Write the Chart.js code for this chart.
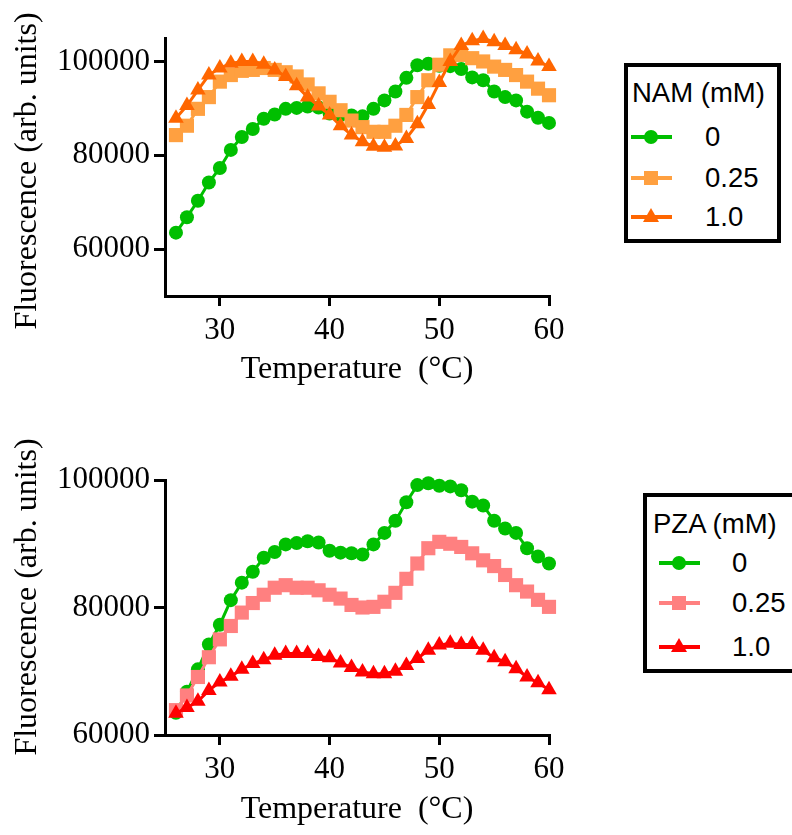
<!DOCTYPE html>
<html>
<head>
<meta charset="utf-8">
<script src="https://cdn.jsdelivr.net/npm/chart.js@4.4.0/dist/chart.umd.min.js"></script>
<style>
  body { margin:0; background:#fff; }
  #wrap { position:relative; width:792px; height:835px; overflow:hidden; }
  #topBox { position:absolute; left:0; top:0; width:600px; height:400px; }
  #botBox { position:absolute; left:0; top:420px; width:600px; height:415px; }
  .leg { position:absolute; border:4px solid #000; background:#fff; font-family:"Liberation Sans", Arial, sans-serif; font-size:27.5px; color:#000; box-sizing:border-box; }
  .leg .ttl { position:absolute; white-space:nowrap; line-height:28px; }
  .leg .row { position:absolute; height:30px; }
  .leg .ln { position:absolute; top:13px; width:41px; height:4px; }
  .leg .mk { position:absolute; }
  .leg .lbl { position:absolute; top:0; line-height:30px; white-space:nowrap; }
</style>
</head>
<body>
<div id="wrap">
  <div id="topBox"><canvas id="topChart"></canvas></div>
  <div id="botBox"><canvas id="botChart"></canvas></div>
  <div class="leg" id="legTop" style="left:624px; top:63px; width:157px; height:180px;"></div>
  <div class="leg" id="legBot" style="left:643px; top:493px; width:180px; height:180px;"></div>
</div>
<script>
// temperatures (°C)
const temps = [26,27,28,29,30,31,32,33,34,35,36,37,38,39,40,41,42,43,44,45,46,47,48,49,50,51,52,53,54,55,56,57,58,59,60]

// control (0 mM), same curve in both panels
const ctrl0 = [63500,66800,70300,74200,77300,81150,83900,85600,87800,88700,89900,90100,90400,90200,88900,88600,88500,88300,89900,91700,93600,96500,99200,99500,99100,99000,98400,96600,96000,93600,92400,91700,89300,88000,86900]
// NAM
const nam025 = [84300,86300,89900,92400,95700,97100,98000,98200,98600,98200,97700,96800,95100,93200,91400,89600,87400,86000,85000,85000,86300,88600,92400,96000,99300,101300,101400,100700,100000,98900,98200,97100,95700,94200,92800]
const nam10 = [87900,90600,93900,97100,98600,99600,100000,100000,99400,98200,96800,94800,92400,90500,88600,86300,84300,82900,81900,81700,82000,83600,86700,90800,95500,100000,103400,104400,104900,104200,103400,102500,101600,100100,98900]
// PZA
const pza025 = [63900,66200,69100,72200,75000,77100,79200,80700,82000,83100,83500,83100,83100,82700,82000,81400,80400,80000,80100,80900,82300,84500,86900,89300,90300,90000,89500,88500,87400,86500,85100,83500,82500,81200,80100]
const pza10 = [63400,64300,65300,67000,68300,69200,70300,71200,71800,72500,72800,72800,72800,72300,72100,71300,70600,69900,69600,69600,70000,70900,72000,73300,74100,74400,74200,74200,73300,72100,71500,70400,69100,68200,67100]

const xTicks = [30,40,50,60]
const topYTicks = [60000,80000,100000]
const botYTicks = [60000,80000,100000]

const green = "#00BF00"
const serif = "'Liberation Serif', 'Times New Roman', serif"

function pts(vals){
    return temps.map((t,i) => ({x:t, y:vals[i]}))
}

function ds(label, vals, color, style, r, order){
    return {
        label: label,
        data: pts(vals),
        borderColor: color,
        backgroundColor: color,
        borderWidth: 3,
        pointStyle: style,
        pointRadius: r,
        pointHoverRadius: r,
        pointBorderWidth: 0,
        tension: 0,
        clip: false,
        order: order
    }
}

// y title drawn by hand so it can sit a little off the plot centre, like the original
const yTitle = {
    id: "yTitle",
    afterDraw(chart, args, opts) {
        const c = chart.ctx
        c.save()
        c.translate(28, opts.cy)
        c.rotate(-Math.PI / 2)
        c.font = "32px " + serif
        c.fillStyle = "#000"
        c.textAlign = "center"
        c.textBaseline = "middle"
        c.fillText("Fluorescence (arb. units)", 0, 0)
        c.restore()
    }
}

function makeChart(id, sets, ymin, ymax, yticks, padTop, xHeight, titlePadBottom, titleCy){
    const ctx = document.getElementById(id).getContext("2d")
    return new Chart(ctx, {
        type: "line",
        data: { datasets: sets },
        plugins: [yTitle],
        options: {
            responsive: true,
            maintainAspectRatio: false,
            animation: false,
            events: [],
            layout: { padding: { top: padTop, right: 51, left: 0, bottom: 0 } },
            plugins: { legend: { display:false }, tooltip: { enabled:false }, yTitle: { cy: titleCy } },
            scales: {
                x: {
                    type: "linear",
                    min: 25, max: 60,
                    afterBuildTicks: s => { s.ticks = xTicks.map(v => ({value:v})) },
                    afterFit: s => { s.height = xHeight },
                    border: { display:true, color:"#000", width:3 },
                    grid: { drawOnChartArea:false, color:"#000", lineWidth:3, tickLength:10 },
                    ticks: { color:"#000", font:{ family:serif, size:31 }, padding:6, maxRotation:0 },
                    title: { display:true, text:"Temperature  (°C)", color:"#000",
                             font:{ family:serif, size:32, lineHeight:1.2 }, padding:{ top:0, bottom:titlePadBottom } }
                },
                y: {
                    min: ymin, max: ymax,
                    afterBuildTicks: s => { s.ticks = yticks.map(v => ({value:v})) },
                    afterFit: s => { s.width = 165 },
                    border: { display:true, color:"#000", width:3 },
                    grid: { drawOnChartArea:false, color:"#000", lineWidth:3, tickLength:11 },
                    ticks: { color:"#000", font:{ family:serif, size:31 }, padding:4,
                             callback: v => String(v) }
                }
            }
        }
    })
}

makeChart("topChart", [
    ds("0", ctrl0, green, "circle", 7, 3),
    ds("0.25", nam025, "#FFA040", "rect", 10, 2),
    ds("1.0", nam10, "#FF6600", "triangle", 9, 1)
], 50000, 105000, topYTicks, 38, 104, 11, 171)

makeChart("botChart", [
    ds("0", ctrl0, green, "circle", 7, 3),
    ds("0.25", pza025, "#FF8080", "rect", 10, 2),
    ds("1.0", pza10, "#FF0000", "triangle", 9, 1)
], 60000, 100000, botYTicks, 60, 100, 6, 177)

// legends
function marker(kind, color){
    const m = document.createElement("div")
    m.className = "mk"
    if (kind === "circle") {
        m.style.cssText = `left:13px; top:8px; width:14px; height:14px; border-radius:50%; background:${color}`
    } else if (kind === "rect") {
        m.style.cssText = `left:13px; top:8px; width:14px; height:14px; background:${color}`
    } else {
        m.style.cssText = `left:12px; top:6px; width:0; height:0; border-left:8px solid transparent; border-right:8px solid transparent; border-bottom:14px solid ${color}`
    }
    return m
}

function buildLegend(id, title, rows, lineX, textX, titleX, titleY, rowYs){
    const box = document.getElementById(id)
    const t = document.createElement("div")
    t.className = "ttl"
    t.textContent = title
    t.style.left = titleX + "px"
    t.style.top = titleY + "px"
    box.appendChild(t)
    rows.forEach((r, i) => {
        const row = document.createElement("div")
        row.className = "row"
        row.style.left = lineX + "px"
        row.style.top = rowYs[i] + "px"
        const ln = document.createElement("div")
        ln.className = "ln"
        ln.style.background = r.color
        row.appendChild(ln)
        row.appendChild(marker(r.kind, r.color))
        const lb = document.createElement("div")
        lb.className = "lbl"
        lb.style.left = textX + "px"
        lb.textContent = r.label
        row.appendChild(lb)
        box.appendChild(row)
    })
}

// positions are relative to the box inner edge (border 4px)
buildLegend("legTop", "NAM (mM)", [
    {label:"0", color:green, kind:"circle"},
    {label:"0.25", color:"#FFA040", kind:"rect"},
    {label:"1.0", color:"#FF6600", kind:"triangle"}
], 3, 74, 4, 12, [55, 96, 135])

buildLegend("legBot", "PZA (mM)", [
    {label:"0", color:green, kind:"circle"},
    {label:"0.25", color:"#FF8080", kind:"rect"},
    {label:"1.0", color:"#FF0000", kind:"triangle"}
], 12, 73, 6, 13, [51, 91, 135])
</script>
</body>
</html>
